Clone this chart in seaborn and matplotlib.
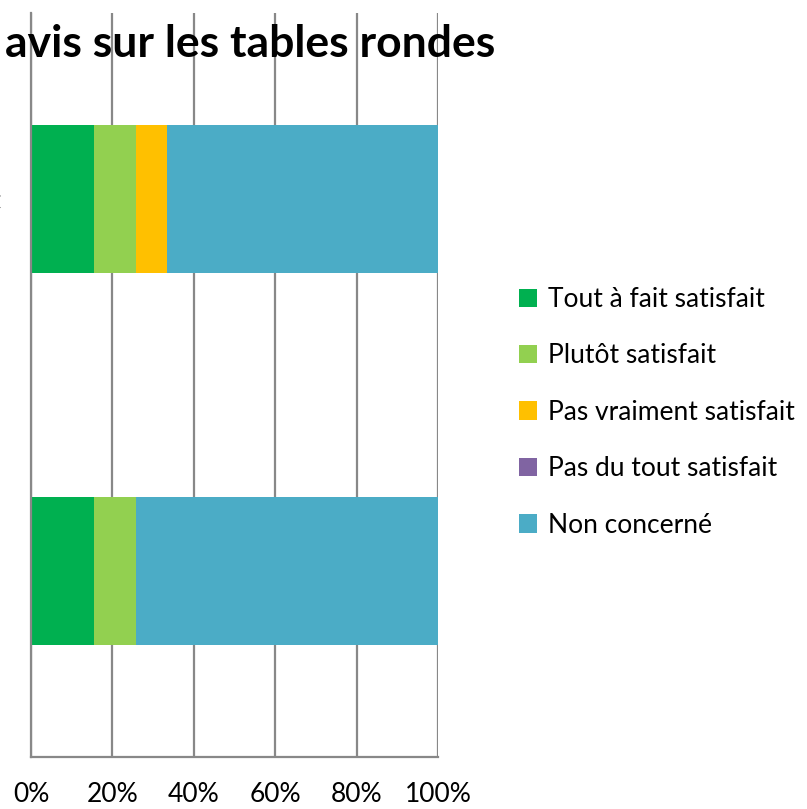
import numpy as np
import pandas as pd
import seaborn as sns
import matplotlib
matplotlib.use("Agg")
import matplotlib.pyplot as plt
from matplotlib.patches import Patch
from matplotlib.ticker import PercentFormatter, FixedLocator

# data (share of answers, %)
groupes = ["Parent", "Enfants"]          # labels cut off on the left edge
reponses = ["Tout à fait satisfait", "Plutôt satisfait", "Pas vraiment satisfait",
            "Pas du tout satisfait", "Non concerné"]
tout_a_fait = [15.4, 15.4]
plutot = [10.3, 10.3]
pas_vraiment = [7.7, 0.0]
pas_du_tout = [0.0, 0.0]
non_concerne = [66.6, 74.3]
couleurs = ["#00B050", "#92D050", "#FFC000", "#8064A2", "#4BACC6"]

sns.set_style("white")
plt.rcParams["font.family"] = ["Lato", "DejaVu Sans"]
plt.rcParams["text.color"] = "black"
plt.rcParams["xtick.labelcolor"] = "black"
plt.rcParams["ytick.labelcolor"] = "black"

df = pd.DataFrame({"groupe": groupes,
                   reponses[0]: tout_a_fait, reponses[1]: plutot,
                   reponses[2]: pas_vraiment, reponses[3]: pas_du_tout,
                   reponses[4]: non_concerne})
cumul = df[reponses].cumsum(axis=1)

W, H = 807, 809
fig = plt.figure(figsize=(W / 100, H / 100), dpi=100)
ax = fig.add_axes([31 / W, 52 / H, (438 - 31) / W, (757 - 13) / H])

# stacked bars: draw from the longest cumulative sum down
for rep, col in reversed(list(zip(reponses, couleurs))):
    sns.barplot(x=cumul[rep], y=df["groupe"], orient="h", color=col,
                width=0.4, linewidth=0, saturation=1, ax=ax)

grid_col = "#888888"
ax.set_xlim(0, 100)
ax.set_ylim(1.5, -0.5)
ax.xaxis.set_major_locator(FixedLocator([0, 20, 40, 60, 80, 100]))
ax.xaxis.set_major_formatter(PercentFormatter(decimals=0))
ax.grid(axis="x", color=grid_col, lw=1.6)
ax.set_axisbelow(True)
ax.set_xlabel("")
ax.set_ylabel("")
for side in ["top", "right"]:
    ax.spines[side].set_visible(False)
for side in ["left", "bottom"]:
    ax.spines[side].set_color(grid_col)
    ax.spines[side].set_linewidth(1.6)
ax.tick_params(axis="x", length=7, width=1.6, color=grid_col, labelsize=19, pad=11)
ax.tick_params(axis="y", which="major", length=0, labelsize=19, pad=21)
ax.set_yticks([-0.5, 0.5, 1.5], minor=True)
ax.tick_params(axis="y", which="minor", length=8, width=1.6, color=grid_col)

fig.text(5 / W, 1 - 57 / H, "avis sur les tables rondes", fontsize=32,
         fontweight="bold", ha="left", va="baseline", color="black")

handles = [Patch(facecolor=c, edgecolor="none", label=r) for r, c in zip(reponses, couleurs)]
fig.legend(handles=handles, loc="upper left", bbox_to_anchor=(519 / W, 1 - 287 / H),
           frameon=False, fontsize=19, handlelength=0.7, handleheight=0.7,
           handletextpad=0.4, labelspacing=1.19, borderpad=0, borderaxespad=0)

fig.savefig("out.png", dpi=100)
